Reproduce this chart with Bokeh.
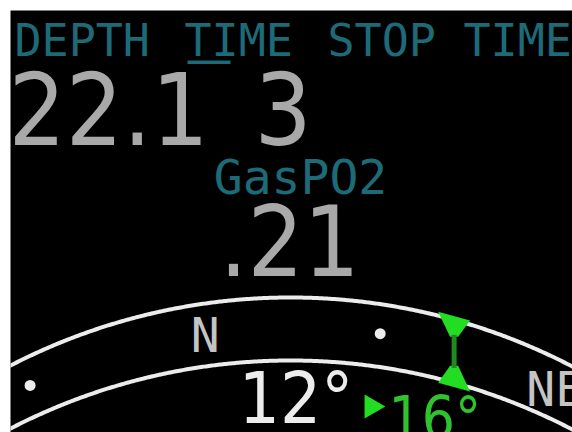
import numpy as np
from bokeh.plotting import figure
from bokeh.models import Range1d
from bokeh.core.properties import value
from bokeh.embed import file_html
from bokeh.resources import INLINE

# ---- values shown on the dive computer screen ----
header_labels = ["DEPTH", "TIME", "STOP", "TIME"]
depth_text = "22.1"
time_text = "3"
gas_label = "GasPO2"
gas_po2_text = ".21"
heading_deg = 12
bearing_offset_deg = 16
mark_degs = [-22.5, 22.5]          # dot marks on the compass tape
card_degs = [0, 45]                # cardinal labels
card_labels = ["N", "NE"]
target_deg = 32                    # green bearing marker

# ---- palette ----
TEAL = "#1d6b78"
GRAY = "#a9a9a9"
LIGHT = "#c4c4c4"
WHITE = "#ececec"
GREEN = "#22dd22"
GREEN_TXT = "#2fc42f"
GREEN_DIM = "#1f8a1f"
MONO = value("DejaVu Sans Mono")
COND = value("DejaVu Sans Condensed")
K = 0.38  # baseline correction factor


def base(y, size):
    return y - K * size


p = figure(width=572, height=432, output_backend="svg", toolbar_location=None,
           x_range=Range1d(10, 572), y_range=Range1d(432, 10),
           x_axis_location=None, y_axis_location=None,
           min_border_left=10, min_border_top=10, min_border_right=0, min_border_bottom=0)
p.background_fill_color = "black"
p.border_fill_color = "white"
p.outline_line_color = None
p.grid.visible = False

# header
hx = [14, 184, 327, 463]
p.text(x=hx, y=[base(57, 45)] * len(hx), text=header_labels, text_font=MONO,
       text_font_size="45px", text_color=TEAL, text_baseline="alphabetic", text_align="left")
# cursor underline below "TI"
p.quad(left=[187], right=[230], top=[60], bottom=[63.5], fill_color=TEAL, line_color=None)

# big values
p.text(x=[8], y=[base(146, 100)], text=[depth_text], text_font=COND, text_font_size="100px",
       text_color=GRAY, text_baseline="alphabetic", text_align="left")
p.text(x=[254], y=[base(146, 100)], text=[time_text], text_font=COND, text_font_size="100px",
       text_color=GRAY, text_baseline="alphabetic", text_align="left")

# gas
p.text(x=[300], y=[base(195, 48)], text=[gas_label], text_font=MONO, text_font_size="48px",
       text_color=TEAL, text_baseline="alphabetic", text_align="center")
p.text(x=[289], y=[base(277, 98)], text=[gas_po2_text], text_font=COND, text_font_size="98px",
       text_color=GRAY, text_baseline="alphabetic", text_align="center")

# compass tape geometry
cx, cy, R, gap = 290.0, 907.0, 610.0, 63.0
xs = np.linspace(-20, 600, 400)
outer = cy - np.sqrt(R ** 2 - (xs - cx) ** 2)
p.line(xs, outer, line_color=WHITE, line_width=4)
p.line(xs, outer + gap, line_color=WHITE, line_width=4)


def tape_x(deg):
    return 298 + (deg - heading_deg) * 7.78


def arc_y(x):
    return cy - np.sqrt(R ** 2 - (x - cx) ** 2)


dot_x = [tape_x(d) for d in mark_degs]
dot_y = [arc_y(x) + gap / 2 - 2 for x in dot_x]
p.scatter(dot_x, dot_y, size=11, color=WHITE, line_color=None)

card_x = [tape_x(d) for d in card_degs]
card_y = [base(arc_y(x) + gap / 2 + 18, 48) for x in card_x]
p.text(x=card_x, y=card_y, text=card_labels, text_font=MONO, text_font_size="48px",
       text_color=LIGHT, text_baseline="alphabetic", text_align="center")

# green bearing marker
tx = tape_x(target_deg)
yo = arc_y(tx)
yi = yo + gap
p.patch([tx - 16, tx + 16, tx + 4, tx - 4], [arc_y(tx - 16) - 4, arc_y(tx + 16) - 4, yo + 17, yo + 17],
        fill_color=GREEN, line_color=None)
p.patch([tx - 4, tx + 4, tx + 16, tx - 16], [yi - 17, yi - 17, arc_y(tx + 16) + gap + 4, arc_y(tx - 16) + gap + 4],
        fill_color=GREEN, line_color=None)
p.segment(x0=[tx], y0=[yo + 15], x1=[tx], y1=[yi - 15], line_color=GREEN_DIM, line_width=5)

# heading readout
p.text(x=[353], y=[base(425, 72)], text=[f"{heading_deg}°"], text_font=COND, text_font_size="72px",
       text_color=WHITE, text_baseline="alphabetic", text_align="right")
p.scatter([371], [406], marker="triangle", angle=-np.pi / 2, size=24, color=GREEN, line_color=None)
p.text(x=[388], y=[base(440, 58)], text=[f"{bearing_offset_deg}°"], text_font=COND, text_font_size="58px",
       text_color=GREEN_TXT, text_baseline="alphabetic", text_align="left")

open("out.html", "w").write(file_html(p, INLINE))
